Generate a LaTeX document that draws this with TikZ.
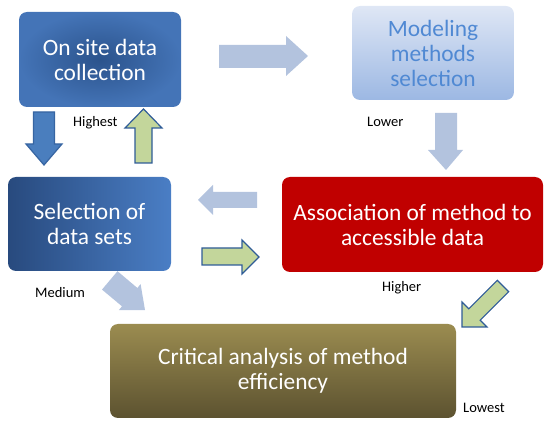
\documentclass[tikz,border=0pt]{standalone}
\usepackage{fontspec}
\setmainfont{Carlito}
\definecolor{boxa}{HTML}{4474B7}
\definecolor{boxacenter}{HTML}{2B538C}
\definecolor{boxbtop}{HTML}{DFE7F5}
\definecolor{boxbbot}{HTML}{9CB8E3}
\definecolor{boxbtext}{HTML}{5089D3}
\definecolor{boxcleft}{HTML}{284A7E}
\definecolor{boxcright}{HTML}{4A7EC5}
\definecolor{boxd}{HTML}{C00000}
\definecolor{boxetop}{HTML}{9B8C50}
\definecolor{boxebot}{HTML}{5C5230}
\definecolor{lightarr}{HTML}{B3C3DE}
\definecolor{bluearr}{HTML}{4A7EBE}
\definecolor{bluearredge}{HTML}{3765A2}
\definecolor{greenarr}{HTML}{C3D69B}
\definecolor{greenarredge}{HTML}{2F5C97}
\begin{document}
\begin{tikzpicture}[x=1pt,y=-1pt,
  box/.style={rounded corners=8pt, inner sep=0pt, align=center, text=white,
    font=\fontsize{23.4}{25}\selectfont},
  lbl/.style={inner sep=0pt, anchor=base west, font=\fontsize{14.5}{17}\selectfont, text=black},
  lightblock/.style={fill=lightarr},
  blueblock/.style={fill=bluearr, draw=bluearredge, line width=1.2pt, line join=miter},
  greenblock/.style={fill=greenarr, draw=greenarredge, line width=1.2pt, line join=miter}]
\useasboundingbox (0,0) rectangle (550,425);
% block arrows
\fill[lightblock] (219,45) -- (286,45) -- (286,36) -- (308,56) -- (286,76) -- (286,68) -- (219,68) -- cycle;
\draw[blueblock] (33.5,112) -- (54.5,112) -- (54.5,144) -- (62,144) -- (44,165) -- (26,144) -- (33.5,144) -- cycle;
\draw[greenblock] (135,163) -- (152,163) -- (152,128) -- (162,128) -- (143.5,109) -- (125,128) -- (135,128) -- cycle;
\fill[lightblock] (435,113) -- (457,113) -- (457,150) -- (463,150) -- (446,170) -- (428,150) -- (435,150) -- cycle;
\fill[lightblock] (257,192) -- (213,192) -- (213,185) -- (198,200) -- (213,215) -- (213,208) -- (257,208) -- cycle;
\draw[greenblock] (202,248) -- (242,248) -- (242,240) -- (259,257) -- (242,274) -- (242,265) -- (202,265) -- cycle;
\fill[lightblock] (117.5,271.2) -- (137.4,288.0) -- (140.6,284.1) -- (145,310) -- (118.8,310.2) -- (122.0,306.3) -- (102.0,289.6) -- cycle;
\draw[greenblock] (497.3,280.3) -- (468.8,308.8) -- (462,302) -- (462,327) -- (487,327) -- (480.2,320.2) -- (508.7,291.7) -- cycle;
% boxes
\node[box, minimum width=162pt, minimum height=95pt, shading=radial, inner color=boxacenter, outer color=boxa] (collect) at (100,59.5) {On site data\\collection};
\node[box, minimum width=162pt, minimum height=94pt, top color=boxbtop, bottom color=boxbbot, text=boxbtext] (model) at (433,53) {Modeling\\methods\\selection};
\node[box, minimum width=163pt, minimum height=94pt, left color=boxcleft, right color=boxcright] (select) at (89.5,224) {Selection of\\data sets};
\node[box, minimum width=261pt, minimum height=95pt, fill=boxd] (assoc) at (412.5,224.5) {Association of method to\\accessible data};
\node[box, minimum width=346pt, minimum height=94pt, top color=boxetop, bottom color=boxebot] (crit) at (283,371) {Critical analysis of method\\efficiency};
% labels
\node[lbl] (highest) at (73,127) {Highest};
\node[lbl] (lower) at (367,127) {Lower};
\node[lbl] (medium) at (35,298) {Medium};
\node[lbl] (higher) at (382,292) {Higher};
\node[lbl] (lowest) at (463,413) {Lowest};
\end{tikzpicture}
\end{document}
